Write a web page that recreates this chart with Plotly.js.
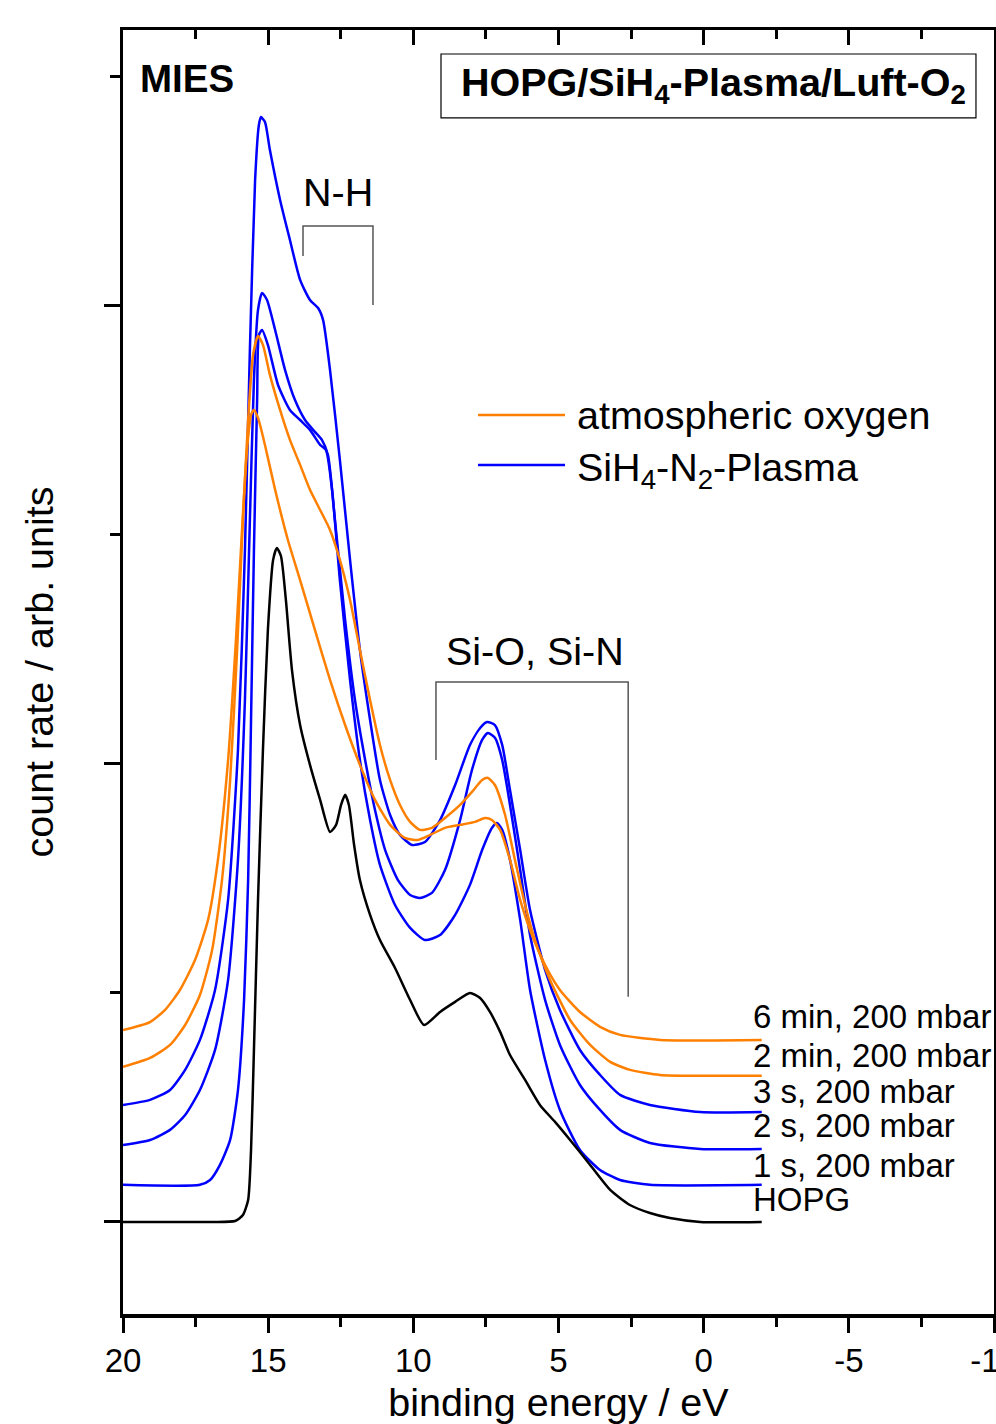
<!DOCTYPE html>
<html>
<head>
<meta charset="utf-8">
<script src="https://cdn.plot.ly/plotly-3.0.1.min.js"></script>
<style>
html,body{margin:0;padding:0;background:#fff;}
#chart{width:996px;height:1424px;}
</style>
</head>
<body>
<div id="chart"></div>
<script>
// ---------- data (binding energy in eV, count rate in arb. units, offset spectra) ----------
const hopgE = [20, 17.0, 16.14, 15.87, 15.69, 15.59, 15.49, 15.35, 15.18, 15.01, 14.83, 14.70, 14.56, 14.39, 14.18, 13.90, 13.56, 13.21, 12.87, 12.66, 12.49, 12.35, 12.22, 12.04, 11.84, 11.49, 11.15, 10.63, 10.11, 9.63, 9.08, 8.56, 8.05, 7.70, 7.36, 7.01, 6.67, 6.15, 5.64, 5.12, 4.60, 3.91, 3.22, 2.54, 1.85, 1.16, 0.12, -2.0];
const hopgCount = [0, 0, 0.004, 0.03, 0.096, 0.314, 0.751, 1.406, 2.061, 2.585, 2.891, 2.943, 2.908, 2.716, 2.410, 2.170, 1.996, 1.843, 1.703, 1.734, 1.821, 1.865, 1.821, 1.646, 1.493, 1.341, 1.231, 1.109, 0.969, 0.860, 0.917, 0.961, 1.000, 0.978, 0.917, 0.830, 0.729, 0.620, 0.511, 0.437, 0.358, 0.249, 0.140, 0.074, 0.039, 0.017, 0, 0];

const s1E = [20, 17.35, 17.00, 16.66, 16.31, 16.04, 15.83, 15.69, 15.59, 15.49, 15.38, 15.32, 15.21, 15.01, 14.66, 14.25, 13.90, 13.56, 13.21, 13.01, 12.80, 12.53, 12.18, 11.84, 11.49, 11.15, 10.63, 10.11, 9.60, 9.08, 8.56, 8.05, 7.63, 7.29, 7.12, 6.94, 6.67, 6.32, 5.98, 5.46, 4.95, 4.26, 3.57, 2.88, 1.85, -2.0];
const s1Count = [0.162, 0.162, 0.183, 0.249, 0.358, 0.576, 0.969, 1.493, 2.192, 2.934, 3.590, 3.873, 3.895, 3.830, 3.655, 3.546, 3.502, 3.459, 3.393, 3.371, 3.197, 2.803, 2.367, 2.017, 1.755, 1.559, 1.384, 1.284, 1.231, 1.253, 1.341, 1.472, 1.624, 1.721, 1.742, 1.712, 1.581, 1.319, 1.013, 0.707, 0.489, 0.314, 0.227, 0.183, 0.162, 0.162];

const s2E = [20, 19.07, 18.38, 17.86, 17.35, 16.83, 16.38, 16.04, 15.80, 15.63, 15.49, 15.35, 15.21, 15.04, 14.76, 14.42, 14.08, 13.73, 13.39, 13.15, 12.94, 12.70, 12.35, 12.01, 11.66, 11.32, 10.97, 10.53, 10.11, 9.77, 9.36, 8.91, 8.39, 7.98, 7.63, 7.43, 7.19, 6.94, 6.67, 6.32, 5.98, 5.46, 4.95, 4.26, 3.57, 2.88, 1.85, 0.12, -2.0];
const s2Count = [0.336, 0.358, 0.402, 0.467, 0.576, 0.751, 1.057, 1.581, 2.279, 3.066, 3.677, 3.983, 4.057, 4.026, 3.895, 3.721, 3.590, 3.502, 3.450, 3.415, 3.349, 3.066, 2.629, 2.279, 2.017, 1.799, 1.624, 1.493, 1.428, 1.415, 1.437, 1.537, 1.755, 1.974, 2.105, 2.135, 2.114, 2.017, 1.821, 1.537, 1.253, 0.969, 0.773, 0.598, 0.489, 0.402, 0.345, 0.319, 0.319];

const s3E = [20, 19.07, 18.38, 17.86, 17.35, 16.83, 16.38, 16.04, 15.80, 15.63, 15.45, 15.32, 15.25, 15.11, 14.94, 14.59, 14.25, 13.90, 13.56, 13.28, 13.11, 12.87, 12.53, 12.18, 11.84, 11.49, 11.15, 10.80, 10.46, 10.04, 9.60, 9.08, 8.56, 8.05, 7.70, 7.46, 7.19, 6.94, 6.67, 6.32, 5.98, 5.46, 4.95, 4.26, 3.57, 2.88, 1.85, 0.12, -2.0];
const s3Count = [0.511, 0.533, 0.576, 0.664, 0.795, 1.013, 1.406, 2.061, 2.934, 3.808, 4.550, 4.790, 4.825, 4.803, 4.681, 4.463, 4.288, 4.114, 4.026, 3.991, 3.939, 3.721, 3.328, 2.891, 2.498, 2.192, 1.930, 1.777, 1.690, 1.646, 1.659, 1.755, 1.908, 2.083, 2.157, 2.183, 2.170, 2.083, 1.886, 1.624, 1.362, 1.100, 0.926, 0.751, 0.642, 0.555, 0.511, 0.480, 0.480];

const m2E = [20, 19.07, 18.38, 17.86, 17.35, 16.93, 16.59, 16.31, 16.07, 15.87, 15.69, 15.52, 15.35, 15.18, 14.94, 14.59, 14.25, 13.90, 13.56, 13.21, 12.87, 12.53, 12.18, 11.84, 11.49, 11.15, 10.80, 10.46, 10.11, 9.77, 9.36, 8.91, 8.39, 7.98, 7.63, 7.43, 7.19, 6.84, 6.50, 6.15, 5.81, 5.29, 4.60, 3.91, 3.22, 2.54, 1.50, 0.12, -2.0];
const m2Count = [0.677, 0.716, 0.773, 0.860, 0.991, 1.188, 1.493, 1.930, 2.498, 3.066, 3.502, 3.786, 3.869, 3.830, 3.699, 3.546, 3.415, 3.306, 3.197, 3.109, 3.022, 2.891, 2.716, 2.498, 2.279, 2.083, 1.930, 1.821, 1.747, 1.712, 1.721, 1.764, 1.821, 1.878, 1.930, 1.939, 1.908, 1.777, 1.581, 1.384, 1.231, 1.057, 0.882, 0.773, 0.699, 0.664, 0.642, 0.638, 0.638];

const m6E = [20, 19.07, 18.55, 18.04, 17.52, 17.07, 16.73, 16.38, 16.11, 15.90, 15.73, 15.59, 15.49, 15.35, 15.11, 14.76, 14.32, 13.90, 13.39, 12.87, 12.35, 11.84, 11.32, 10.80, 10.29, 9.84, 9.42, 8.91, 8.39, 7.87, 7.53, 7.29, 7.01, 6.67, 6.32, 5.98, 5.46, 4.95, 4.26, 3.57, 2.88, 1.50, -2.0];
const m6Count = [0.838, 0.873, 0.926, 1.013, 1.144, 1.319, 1.581, 2.017, 2.541, 3.022, 3.371, 3.524, 3.546, 3.511, 3.393, 3.197, 2.978, 2.803, 2.585, 2.367, 2.170, 1.996, 1.843, 1.734, 1.677, 1.668, 1.690, 1.721, 1.734, 1.747, 1.764, 1.755, 1.712, 1.581, 1.406, 1.275, 1.122, 1.013, 0.917, 0.852, 0.817, 0.795, 0.795];

const curveLabels = ['6 min, 200 mbar', '2 min, 200 mbar', '3 s, 200 mbar', '2 s, 200 mbar', '1 s, 200 mbar', 'HOPG'];
const curveLabelY = [0.895, 0.729, 0.568, 0.419, 0.245, 0.096];
const groupNames = ['atmospheric oxygen', 'SiH<sub>4</sub>-N<sub>2</sub>-Plasma'];
const xTickVals = [20, 15, 10, 5, 0, -5, -10];
const xTickText = ['20', '15', '10', '5', '0', '-5', '-10'];
// bracket ranges (eV) and heights for the band annotations
const nhBracket = {x0: 13.8, x1: 11.39, top: 4.349, left: 4.218, right: 4.004};
const sioBracket = {x0: 9.22, x1: 2.60, top: 2.358, left: 2.017, right: 0.983};

// ---------- styling ----------
const ORANGE = 'rgb(255,128,0)';
const BLUE = 'rgb(0,0,255)';
const FONT = 'Liberation Sans, Arial, sans-serif';
const BIG = 39.5;

function line(x, y, color, name, xaxis) {
  return {x: x, y: y, type: 'scatter', mode: 'lines', name: name, showlegend: false, xaxis: xaxis || 'x',
          line: {color: color, width: 2.5, shape: 'spline', smoothing: 0.6}, hoverinfo: 'x+y+name'};
}

const traces = [
  line(hopgE, hopgCount, 'black', 'HOPG', 'x2'),
  line(s1E, s1Count, BLUE, '1 s, 200 mbar'),
  line(s2E, s2Count, BLUE, '2 s, 200 mbar'),
  line(s3E, s3Count, BLUE, '3 s, 200 mbar'),
  line(m2E, m2Count, ORANGE, '2 min, 200 mbar'),
  line(m6E, m6Count, ORANGE, '6 min, 200 mbar')
];

const annotations = [];
curveLabels.forEach((t, i) => {
  annotations.push({x: -1.62, y: curveLabelY[i], xref: 'x', yref: 'y', text: t, showarrow: false,
    xanchor: 'left', yanchor: 'middle', font: {family: FONT, size: 33, color: 'black'}});
});
annotations.push({x: (nhBracket.x0 + nhBracket.x1) / 2, y: 4.498, xref: 'x', yref: 'y', text: 'N-H',
  showarrow: false, xanchor: 'center', yanchor: 'middle', font: {family: FONT, size: BIG, color: 'black'}});
annotations.push({x: 5.81, y: 2.493, xref: 'x', yref: 'y', text: 'Si-O, Si-N',
  showarrow: false, xanchor: 'center', yanchor: 'middle', font: {family: FONT, size: BIG, color: 'black'}});
annotations.push({x: 0.0175, y: 0.9626, xref: 'paper', yref: 'paper', text: '<b>MIES</b>',
  showarrow: false, xanchor: 'left', yanchor: 'middle', font: {family: FONT, size: 38.5, color: 'black'}});
annotations.push({x: 0.6774, y: 0.9575, xref: 'paper', yref: 'paper',
  text: '<b>HOPG/SiH<sub>4</sub>-Plasma/Luft-O<sub>2</sub></b>',
  showarrow: false, xanchor: 'center', yanchor: 'middle',
  font: {family: FONT, size: BIG, color: 'black'}});
// manual legend
annotations.push({x: 0.519, y: 0.7002, xref: 'paper', yref: 'paper', text: groupNames[0], showarrow: false,
  xanchor: 'left', yanchor: 'middle', font: {family: FONT, size: BIG, color: 'black'}});
annotations.push({x: 0.519, y: 0.6612, xref: 'paper', yref: 'paper', text: groupNames[1], showarrow: false,
  xanchor: 'left', yanchor: 'middle', yshift: -5, font: {family: FONT, size: BIG, color: 'black'}});

const bracketStyle = {color: '#555', width: 1.5};
const shapes = [
  {type: 'path', xref: 'x', yref: 'y', line: bracketStyle,
   path: `M ${nhBracket.x0},${nhBracket.left} L ${nhBracket.x0},${nhBracket.top} L ${nhBracket.x1},${nhBracket.top} L ${nhBracket.x1},${nhBracket.right}`},
  {type: 'path', xref: 'x', yref: 'y', line: bracketStyle,
   path: `M ${sioBracket.x0},${sioBracket.left} L ${sioBracket.x0},${sioBracket.top} L ${sioBracket.x1},${sioBracket.top} L ${sioBracket.x1},${sioBracket.right}`},
  // frame of the sample title
  {type: 'rect', xref: 'paper', yref: 'paper', x0: 0.3651, x1: 0.9793, y0: 0.9315, y1: 0.9813,
   line: {color: 'black', width: 1.2}, fillcolor: 'rgba(0,0,0,0)'},
  // legend samples
  {type: 'line', xref: 'paper', yref: 'paper', x0: 0.4076, x1: 0.5075, y0: 0.7002, y1: 0.7002, line: {color: ORANGE, width: 2.5}},
  {type: 'line', xref: 'paper', yref: 'paper', x0: 0.4076, x1: 0.5075, y0: 0.6612, y1: 0.6612, line: {color: BLUE, width: 2.5}}
];

const axisCommon = {showline: true, linewidth: 3.5, linecolor: 'black', showgrid: false, zeroline: false};

const layout = {
  width: 996, height: 1424,
  margin: {l: 123, r: 2, t: 30, b: 110, pad: 0},
  paper_bgcolor: 'white', plot_bgcolor: 'white',
  font: {family: FONT, color: 'black'},
  showlegend: false,
  xaxis: Object.assign({
    range: [20, -10], tickmode: 'array', tickvals: xTickVals, ticktext: xTickText,
    ticks: 'outside', ticklen: 15, tickwidth: 3, tickcolor: 'black', ticklabeloverflow: 'allow',
    minor: {tickmode: 'linear', tick0: 0, dtick: 2.5, ticks: 'outside', ticklen: 9, tickwidth: 3, tickcolor: 'black'},
    tickfont: {family: FONT, size: 33, color: 'black'},
    title: {text: 'binding energy / eV', font: {family: FONT, size: BIG, color: 'black'}, standoff: 40},
    automargin: false
  }, axisCommon),
  xaxis2: Object.assign({
    overlaying: 'x', matches: 'x', side: 'top', anchor: 'y', range: [20, -10], tickmode: 'array', tickvals: xTickVals,
    ticks: 'inside', ticklen: 15, tickwidth: 3, tickcolor: 'black', showticklabels: false,
    minor: {tickmode: 'linear', tick0: 0, dtick: 2.5, ticks: 'inside', ticklen: 9, tickwidth: 3, tickcolor: 'black'}
  }, axisCommon),
  yaxis: Object.assign({
    range: [-0.402, 5.205], tickmode: 'array', tickvals: [0, 2, 4],
    ticks: 'outside', ticklen: 16, tickwidth: 3, tickcolor: 'black', showticklabels: false,
    minor: {tickmode: 'array', tickvals: [1, 3, 5], ticks: 'outside', ticklen: 10, tickwidth: 3, tickcolor: 'black'},
    mirror: true,
    title: {text: 'count rate / arb. units', font: {family: FONT, size: BIG, color: 'black'}, standoff: 38},
    automargin: false
  }, axisCommon),
  annotations: annotations,
  shapes: shapes
};

Plotly.newPlot('chart', traces, layout, {staticPlot: true, displayModeBar: false});
</script>
</body>
</html>
